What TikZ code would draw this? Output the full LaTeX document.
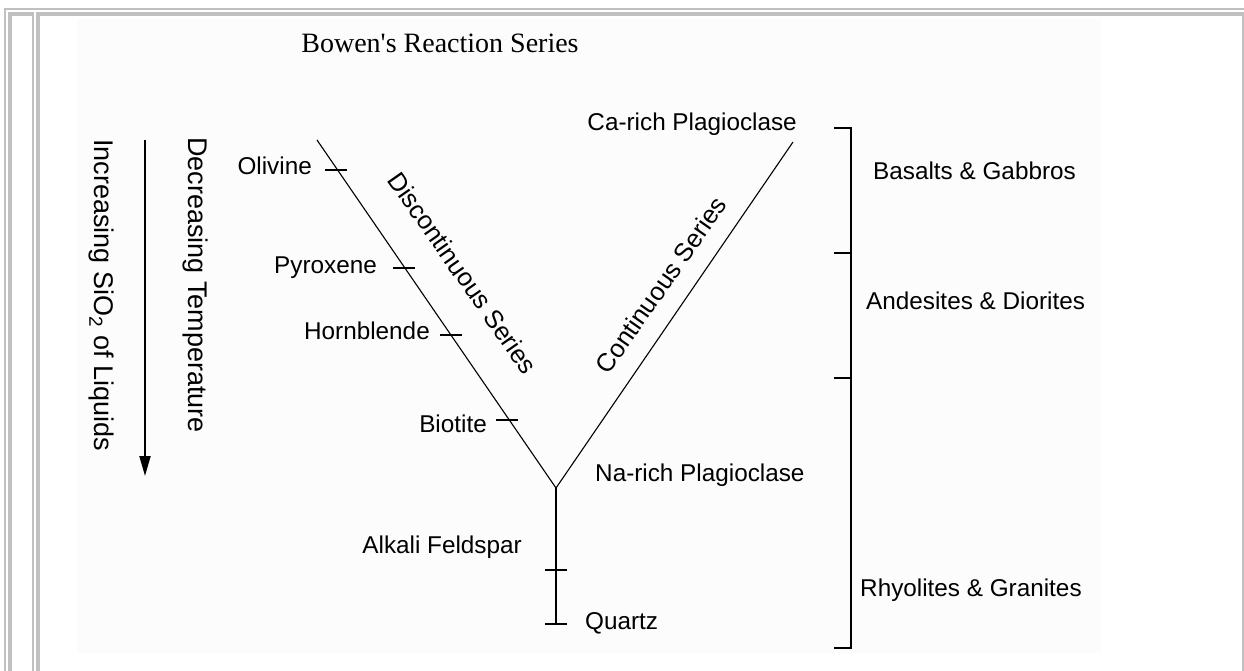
\documentclass[tikz,border=0pt]{standalone}
\usepackage{fontspec}
\setmainfont{Liberation Sans}
\newfontfamily\bowtitlefont{Liberation Serif}
\definecolor{bowframe}{RGB}{192,192,192}
\definecolor{bowpaper}{RGB}{252,252,252}
\usetikzlibrary{arrows.meta,positioning}

\begin{document}
\begin{tikzpicture}[x=1pt,y=-1pt,
  bowlabel/.style={inner sep=0pt,font=\fontsize{24.3}{28}\selectfont},
  bowseries/.style={inner sep=0pt,font=\fontsize{25.5}{30}\selectfont},
  bowside/.style={inner sep=0pt,rotate=-90,font=\fontsize{27}{32}\selectfont},
  bowline/.style={line width=1.1pt,black},
  bowstem/.style={line width=2pt,black},
  bowtick/.style={line width=1.3pt,black},
  bowarr/.style={-{Triangle[width=11pt,length=20pt]},line width=2pt,black}
]
  \useasboundingbox (0,0) rectangle (1244,671);

  % Page frame
  \fill[bowframe] (4,8) rectangle (1244,10);
  \fill[bowframe] (4,8) rectangle (5.5,671);
  \fill[bowframe] (8,12) rectangle (33.5,16);
  \fill[bowframe] (8,12) rectangle (12,671);
  \fill[bowframe] (32,12) rectangle (33.5,671);
  \fill[bowframe] (36,12) rectangle (1244,16);
  \fill[bowframe] (36,12) rectangle (40,671);
  \fill[bowframe] (1241.5,12) rectangle (1244,671);
  \fill[bowpaper] (77,19) rectangle (1101,653);

  % Title
  \node[inner sep=0pt,anchor=base,font=\bowtitlefont\fontsize{28}{32}\selectfont] (title) at (440,53) {Bowen's Reaction Series};

  % Temperature arrow
  \coordinate (tempstart) at (145,140);
  \coordinate (tempend) at (145,476);
  \draw[bowarr] (tempstart) -- (tempend);
  \node[bowside] (temp) at (195,285) {Decreasing Temperature};
  \node[bowside] (silica) at (101,295) {Increasing SiO\textsubscript{2} of Liquids};

  % Branches
  \coordinate (ltop) at (317,140);
  \coordinate (rtop) at (793,142);
  \coordinate (vjoin) at (556,488);
  \coordinate (sbot) at (556,624);
  \draw[bowline] (ltop) -- (vjoin) -- (rtop);
  \draw[bowstem] (vjoin) -- (sbot);

  % Ticks
  \coordinate (tkol) at (336,170);
  \coordinate (tkpy) at (404,268);
  \coordinate (tkho) at (451,335);
  \coordinate (tkbi) at (507,420);
  \coordinate (tkal) at (556,570);
  \foreach \t in {tkol,tkpy,tkho,tkbi}
    \draw[bowtick] ([xshift=-11]\t) -- ([xshift=11]\t);
  \foreach \t in {tkal,sbot}
    \draw[bowstem] ([xshift=-11]\t) -- ([xshift=11]\t);

  % Minerals
  \node[bowlabel,anchor=base east] (olivine) at (312,175) {Olivine};
  \node[bowlabel,anchor=base east] (pyroxene) at (377,273) {Pyroxene};
  \node[bowlabel,anchor=base east] (hornblende) at (430,339) {Hornblende};
  \node[bowlabel,anchor=base east] (biotite) at (487,432) {Biotite};
  \node[bowlabel,anchor=base east] (alkali) at (522,553) {Alkali Feldspar};
  \node[bowlabel,anchor=base west] (quartz) at (585,629) {Quartz};
  \node[bowlabel,anchor=base west] (narich) at (595,481) {Na-rich Plagioclase};
  \node[bowlabel,anchor=base east] (carich) at (797,131) {Ca-rich Plagioclase};

  % Series names
  \node[bowseries,rotate=-55] (discont) at (463,273) {Discontinuous Series};
  \node[bowseries,rotate=55] (cont) at (661,285) {Continuous Series};

  % Rock bracket
  \coordinate (br1) at (851,128);
  \coordinate (br2) at (851,253);
  \coordinate (br3) at (851,378);
  \coordinate (br4) at (851,648);
  \draw[bowstem] ([xshift=-17]br1) -- (br1) -- (br4) -- ([xshift=-17]br4);
  \draw[bowstem] ([xshift=-17]br2) -- (br2);
  \draw[bowstem] ([xshift=-17]br3) -- (br3);

  % Rock names
  \node[bowlabel,anchor=base west] (basalt) at (873,179) {Basalts \& Gabbros};
  \node[bowlabel,anchor=base west] (andesite) at (866,309) {Andesites \& Diorites};
  \node[bowlabel,anchor=base west] (rhyolite) at (860,596) {Rhyolites \& Granites};
\end{tikzpicture}
\end{document}
